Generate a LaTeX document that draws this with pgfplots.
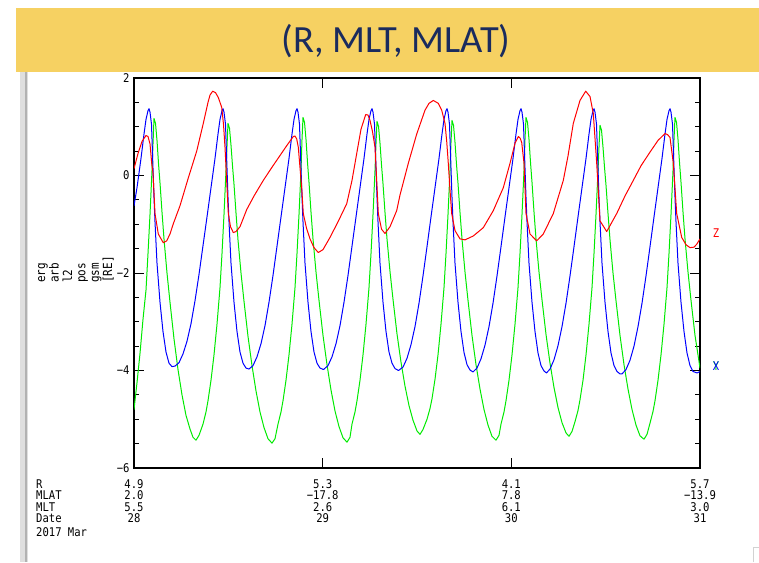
\documentclass[border=0pt]{standalone}
\usepackage{pgfplots}
\pgfplotsset{compat=1.18}
\usepackage{fontspec}
\setmainfont{Liberation Sans}
\newfontfamily\idlfont[FakeStretch=0.88]{DejaVu Sans Mono}
\newfontfamily\titlefont{Carlito}
\definecolor{banner}{HTML}{F6D162}
\definecolor{titleblue}{HTML}{1A2B5E}
\definecolor{idlgreen}{RGB}{0,235,0}
\newcommand{\idl}{\idlfont\fontsize{12}{11.3}\selectfont}
\begin{document}
\begin{tikzpicture}
\path[use as bounding box] (0pt,0pt) rectangle (759pt,562pt);
\fill[white] (0pt,0pt) rectangle (759pt,562pt);
\fill[banner] (16pt,489.5pt) rectangle (759pt,554pt);
\node[font=\titlefont\fontsize{38.5}{40}\selectfont, text=titleblue, inner sep=0pt] at (396pt,521pt) {(R, MLT, MLAT)};
\fill[gray!25] (20pt,0pt) rectangle (28pt,489.5pt);
\fill[gray!60] (24.5pt,0pt) rectangle (27pt,489.5pt);
\draw[gray!35, line width=0.8pt] (753pt,0pt) -- (753pt,15pt) -- (759pt,15pt);
\begin{axis}[
  at={(134pt,94pt)}, anchor=south west,
  scale only axis, width=566pt, height=390pt,
  xmin=0, xmax=566, ymin=-6, ymax=2,
  xtick={0,188.667,377.333,566}, xticklabels={},
  minor x tick num=3,
  ytick={-6,-4,-2,0,2}, yticklabels={−6,−4,−2,0,2},
  minor y tick num=3,
  tick align=inside, major tick length=10pt, minor tick length=5pt,
  xtick pos=both, ytick pos=both, yticklabel pos=left,
  tick style={black, line width=0.9pt},
  axis line style={black, line width=1.1pt},
  yticklabel style={font=\idl, xshift=-1pt},
  no markers,
  every axis plot/.append style={sharp plot, line width=1pt, line join=round},
]
\addplot[idlgreen] coordinates {
(0,-4.8) (3,-4.25) (6,-3.65) (9,-2.95) (12,-2.35) (14,-1.6) (16,-0.8) (18,0.1) (19,0.65) (20,1.17)
(21.5,1.07) (23,0.72) (24.5,0.25) (26,-0.15) (28,-0.75) (30,-1.3) (33,-2.0) (36,-2.6) (40,-3.35) (44,-3.98) (48,-4.5) (52,-4.92) (56,-5.2) (59,-5.37) (62,-5.43)
(65,-5.33) (69,-5.1) (72,-4.85) (74,-4.62) (77,-4.2) (80,-3.68) (83,-3.05) (86,-2.3) (88,-1.6) (90,-0.8) (92,0.1) (93,0.6) (94,1.07)
(95.5,0.97) (97,0.62) (98.5,0.2) (100,-0.18) (102,-0.77) (104,-1.32) (107,-2.0) (110,-2.58) (114,-3.3) (118,-3.9) (122,-4.42) (126,-4.85) (130,-5.17) (134,-5.4) (138,-5.49)
(141,-5.4) (144,-5.1) (147,-4.85) (149,-4.62) (152,-4.2) (155,-3.68) (158,-3.05) (161,-2.3) (163,-1.6) (165,-0.8) (167,0.1) (168,0.74) (169,1.19)
(170.5,1.09) (172,0.74) (173.5,0.27) (175,-0.14) (177,-0.75) (179,-1.3) (182,-1.98) (185,-2.56) (189,-3.28) (193,-3.88) (197,-4.4) (201,-4.83) (205,-5.15) (209,-5.38) (213,-5.47)
(216,-5.37) (218,-5.1) (221,-4.85) (223,-4.62) (226,-4.2) (229,-3.68) (232,-3.05) (235,-2.3) (237,-1.6) (239,-0.8) (241,0.1) (242,0.66) (243,1.11)
(244.5,1.01) (246,0.66) (247.5,0.22) (249,-0.17) (251,-0.76) (253,-1.3) (256,-1.97) (259,-2.54) (263,-3.25) (267,-3.83) (271,-4.32) (275,-4.72) (279,-5.02) (283,-5.24) (286,-5.31)
(289,-5.21) (293,-5.0) (296,-4.78) (298,-4.58) (301,-4.18) (304,-3.68) (307,-3.05) (310,-2.3) (312,-1.6) (314,-0.8) (316,0.1) (317,0.68) (318,1.13)
(319.5,1.03) (321,0.68) (322.5,0.23) (324,-0.16) (326,-0.76) (328,-1.3) (331,-1.98) (334,-2.56) (338,-3.28) (342,-3.88) (346,-4.38) (350,-4.8) (354,-5.12) (358,-5.35) (362,-5.43)
(365,-5.33) (367,-5.1) (370,-4.85) (372,-4.62) (375,-4.2) (378,-3.68) (381,-3.05) (384,-2.3) (386,-1.6) (388,-0.8) (390,0.1) (391,0.74) (392,1.19)
(393.5,1.09) (395,0.74) (396.5,0.27) (398,-0.14) (400,-0.75) (402,-1.3) (405,-1.98) (408,-2.55) (412,-3.26) (416,-3.85) (420,-4.35) (424,-4.76) (428,-5.07) (432,-5.28) (435,-5.35)
(438,-5.25) (441,-5.05) (444,-4.82) (446,-4.6) (449,-4.2) (452,-3.68) (455,-3.05) (458,-2.3) (460,-1.6) (462,-0.8) (464,0.1) (465,0.58) (466,1.03)
(467.5,0.93) (469,0.58) (470.5,0.17) (472,-0.2) (474,-0.78) (476,-1.32) (479,-2.0) (482,-2.57) (486,-3.28) (490,-3.88) (494,-4.38) (498,-4.8) (502,-5.12) (506,-5.34) (510,-5.41)
(513,-5.31) (516,-5.08) (519,-4.84) (521,-4.62) (524,-4.2) (527,-3.68) (530,-3.05) (533,-2.3) (535,-1.6) (537,-0.8) (539,0.1) (540,0.74) (541,1.19)
(542.5,1.09) (544,0.74) (545.5,0.27) (547,-0.14) (549,-0.75) (551,-1.3) (554,-1.98) (557,-2.56) (561,-3.28) (566,-3.95)
};
\addplot[blue] coordinates {
(0,-0.62) (3,-0.25) (7,0.35) (10,0.85) (12,1.15) (14,1.33) (15,1.37)
(16,1.30) (17.5,1.05) (19,0.15) (20,-0.45) (21,-0.95) (23,-1.8) (26,-2.6) (29,-3.2) (32,-3.62) (35,-3.85) (38,-3.92) (41,-3.91)
(45,-3.84) (49,-3.66) (53,-3.4) (57,-3.04) (61,-2.57) (65,-2.03) (69,-1.44) (73,-0.85) (77,-0.25) (81,0.35) (84,0.85) (86,1.15) (88,1.33) (89,1.37)
(90,1.30) (91.5,1.05) (93,0.15) (94,-0.45) (95,-0.95) (97,-1.8) (100,-2.6) (103,-3.2) (106,-3.62) (109,-3.85) (112,-3.95) (115,-3.97)
(119,-3.9) (123,-3.72) (127,-3.45) (131,-3.08) (135,-2.6) (139,-2.05) (143,-1.45) (147,-0.85) (151,-0.25) (155,0.35) (158,0.85) (160,1.15) (162,1.33) (163,1.37)
(164,1.30) (165.5,1.05) (167,0.15) (168,-0.45) (169,-0.95) (171,-1.8) (174,-2.6) (177,-3.2) (180,-3.62) (183,-3.85) (186,-3.95) (189.5,-3.98)
(194,-3.9) (198,-3.72) (202,-3.45) (206,-3.08) (210,-2.6) (214,-2.05) (218,-1.45) (222,-0.85) (226,-0.25) (230,0.35) (233,0.85) (235,1.15) (237,1.33) (238,1.37)
(239,1.30) (240.5,1.05) (242,0.15) (243,-0.45) (244,-0.95) (246,-1.8) (249,-2.6) (252,-3.2) (255,-3.62) (258,-3.85) (261,-3.96) (264.5,-4.0)
(269,-3.93) (273,-3.75) (277,-3.47) (281,-3.1) (285,-2.62) (289,-2.06) (293,-1.46) (297,-0.85) (301,-0.25) (305,0.35) (308,0.85) (310,1.15) (312,1.33) (313,1.37)
(314,1.30) (315.5,1.05) (317,0.15) (318,-0.45) (319,-0.95) (321,-1.8) (324,-2.6) (327,-3.2) (330,-3.63) (333,-3.88) (336,-3.99) (339,-4.03)
(343,-3.95) (347,-3.76) (351,-3.48) (355,-3.1) (359,-2.62) (363,-2.06) (367,-1.46) (371,-0.85) (375,-0.25) (379,0.35) (382,0.85) (384,1.15) (386,1.33) (387,1.37)
(388,1.30) (389.5,1.05) (391,0.15) (392,-0.45) (393,-0.95) (395,-1.8) (398,-2.6) (401,-3.2) (404,-3.64) (407,-3.9) (410,-4.01) (412.5,-4.05)
(416,-3.97) (420,-3.78) (424,-3.49) (428,-3.1) (432,-2.62) (436,-2.06) (440,-1.46) (444,-0.85) (448,-0.25) (452,0.35) (455,0.85) (457,1.15) (459,1.33) (460,1.37)
(461,1.30) (462.5,1.05) (464,0.15) (465,-0.45) (466,-0.95) (468,-1.8) (471,-2.6) (474,-3.2) (477,-3.64) (480,-3.9) (483,-4.02) (486,-4.07) (488,-4.07)
(492,-3.98) (496,-3.79) (500,-3.5) (504,-3.1) (508,-2.62) (512,-2.06) (516,-1.46) (520,-0.85) (524,-0.25) (528,0.35) (531,0.85) (533,1.15) (535,1.33) (536,1.37)
(537,1.30) (538.5,1.05) (540,0.15) (541,-0.45) (542,-0.95) (544,-1.8) (547,-2.6) (550,-3.2) (553,-3.64) (556,-3.9) (559,-4.02) (563,-4.05) (566,-4.02)
};
\addplot[red] coordinates {
(0,0.14) (4,0.45) (8,0.7) (12,0.82) (14,0.8) (16,0.65) (17.7,0.25) (19,0.05) (21,-0.78) (24.3,-1.2) (29.3,-1.38) (32.7,-1.34) (36,-1.2) (39.3,-0.99) (46,-0.62) (54.3,-0.05) (62.7,0.5) (69.3,1.07) (74,1.5) (76,1.65) (78.7,1.73) (81.5,1.7) (84.3,1.6) (87.7,1.4) (89.5,1.05) (91,0.58) (94.3,-0.78) (96.5,-1.05) (99.3,-1.17) (102,-1.15) (106,-1.05) (112.7,-0.7) (120,-0.42) (129.3,-0.1) (138,0.17) (146,0.41) (153,0.62) (159.3,0.80) (161,0.81) (162.7,0.75) (164.3,0.58) (166,0.16) (167.7,-0.25) (169.3,-0.78) (172.5,-1.08) (176,-1.3) (180,-1.48) (184.3,-1.58) (189,-1.52) (196,-1.27) (204,-0.95) (212.7,-0.58) (218,-0.1) (222.7,0.45) (227,0.95) (231.7,1.25) (234,1.24) (236,1.13) (238.5,0.9) (241,0.58) (242.7,-0.1) (244.3,-0.78) (247.5,-1.1) (251,-1.19) (256,-1.05) (262.7,-0.72) (266,-0.4) (274.3,0.25) (282.7,0.85) (291,1.34) (295,1.48) (299.3,1.54) (304.3,1.48) (307.7,1.34) (311,1.07) (312.7,0.7) (314.3,0.25) (316,-0.3) (317.7,-0.78) (321,-1.13) (326,-1.30) (331,-1.32) (339.3,-1.24) (349.3,-1.07) (359.3,-0.72) (369.3,-0.25) (376,0.25) (381,0.66) (384.3,0.80) (386,0.77) (387.7,0.68) (390,0.25) (392,-0.78) (396,-1.2) (402.7,-1.34) (409.3,-1.2) (419.3,-0.78) (429.3,-0.1) (434,0.4) (439.3,1.07) (446,1.54) (451.7,1.73) (456,1.62) (459.3,1.27) (462.7,0.25) (466,-0.93) (472.7,-1.15) (482.7,-0.78) (491,-0.42) (499.3,-0.1) (507,0.2) (516,0.48) (524,0.72) (531,0.86) (533.5,0.84) (536,0.78) (539.3,0.25) (542.7,-0.78) (547.7,-1.27) (552,-1.42) (556,-1.48) (560,-1.47) (562.7,-1.41) (566,-1.30)
};
\end{axis}
\node[rotate=90, anchor=north west, align=left, inner sep=0pt, font=\idlfont\fontsize{12.5}{13.4}\selectfont] at (38pt,279pt) {erg\\arb\\l2\\pos\\gsm\\{[RE]}};
\node[anchor=north west, align=left, inner sep=0pt, font=\idl] at (36pt,82.5pt) {R\\MLAT\\MLT\\Date};
\node[anchor=north west, inner sep=0pt, font=\idl] at (36pt,35pt) {2017 Mar};
\node[anchor=north, align=center, inner sep=0pt, font=\idl] at (134pt,82.5pt) {4.9\\2.0\\5.5\\28};
\node[anchor=north, align=center, inner sep=0pt, font=\idl] at (322.7pt,82.5pt) {5.3\\−17.8\\2.6\\29};
\node[anchor=north, align=center, inner sep=0pt, font=\idl] at (511.3pt,82.5pt) {4.1\\7.8\\6.1\\30};
\node[anchor=north, align=center, inner sep=0pt, font=\idl] at (700pt,82.5pt) {5.7\\−13.9\\3.0\\31};
\node[text=red, font=\idl] at (716pt,329pt) {Z};
\node[text=idlgreen, font=\idl] at (716pt,196pt) {Y};
\node[text=blue, font=\idl] at (716pt,196pt) {X};
\end{tikzpicture}
\end{document}
